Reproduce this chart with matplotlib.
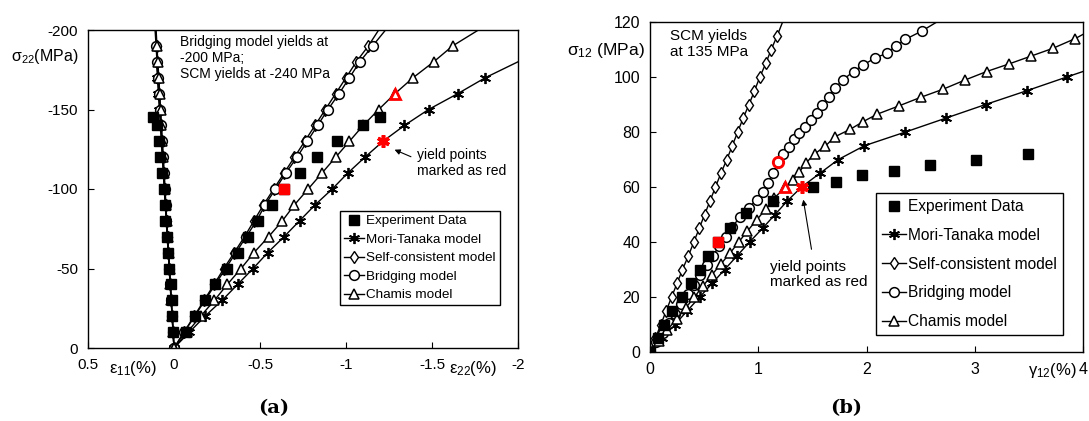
import numpy as np
import matplotlib.pyplot as plt

plt.rcParams['font.family'] = ['Liberation Sans', 'DejaVu Sans']
plt.rcParams['mathtext.fontset'] = 'custom'
plt.rcParams['mathtext.rm'] = 'Liberation Sans'
plt.rcParams['mathtext.it'] = 'Liberation Sans:italic'

# ---------------- panel (a): transverse compression ----------------
exp_s_a = [-10, -20, -30, -40, -50, -60, -70, -80, -90, -100, -110, -120, -130, -140, -145]
exp_e22_a = [-0.07, -0.12, -0.18, -0.24, -0.31, -0.37, -0.43, -0.49, -0.57, -0.64,
             -0.73, -0.83, -0.95, -1.10, -1.20]
exp_e11_a = [0.005, 0.01, 0.01, 0.02, 0.03, 0.035, 0.04, 0.05, 0.055, 0.06,
             0.07, 0.08, 0.09, 0.10, 0.12]

mod_s_a = [0, -10, -20, -30, -40, -50, -60, -70, -80, -90, -100,
           -110, -120, -130, -140, -150, -160, -170, -180, -190, -200]
bri_e22_a = [0, -0.06, -0.12, -0.18, -0.24, -0.30, -0.36, -0.42, -0.48, -0.53, -0.59,
             -0.65, -0.715, -0.775, -0.835, -0.895, -0.96, -1.02, -1.08, -1.155, -1.23]
bri_e11_a = [0, 0.005, 0.011, 0.016, 0.022, 0.027, 0.033, 0.038, 0.044, 0.049, 0.055,
             0.06, 0.066, 0.071, 0.077, 0.082, 0.088, 0.093, 0.099, 0.104, 0.11]
sc_e22_a = [0, -0.058, -0.117, -0.175, -0.233, -0.29, -0.35, -0.41, -0.465, -0.52, -0.58,
            -0.64, -0.70, -0.76, -0.82, -0.88, -0.94, -1.00, -1.06, -1.13, -1.19]
sc_e11_a = [0, 0.005, 0.011, 0.016, 0.021, 0.027, 0.032, 0.037, 0.043, 0.048, 0.053,
            0.059, 0.064, 0.069, 0.075, 0.08, 0.085, 0.091, 0.096, 0.101, 0.107]
ch_e22_a = [0, -0.078, -0.155, -0.235, -0.31, -0.39, -0.465, -0.55, -0.63, -0.70, -0.78,
            -0.86, -0.94, -1.02, -1.10, -1.19, -1.285, -1.39, -1.51, -1.62, -1.77]
ch_e11_a = [0, 0.005, 0.01, 0.016, 0.021, 0.026, 0.031, 0.036, 0.042, 0.047, 0.052,
            0.057, 0.062, 0.068, 0.073, 0.078, 0.083, 0.088, 0.094, 0.099, 0.104]
mt_s_a = [0, -10, -20, -30, -40, -50, -60, -70, -80, -90, -100,
          -110, -120, -130, -140, -150, -160, -170, -180]
mt_e22_a = [0, -0.09, -0.18, -0.28, -0.37, -0.46, -0.545, -0.64, -0.73, -0.82, -0.92,
            -1.01, -1.11, -1.215, -1.34, -1.48, -1.65, -1.81, -2.0]
mt_e11_a = [0, 0.006, 0.011, 0.017, 0.023, 0.028, 0.034, 0.04, 0.045, 0.051, 0.057,
            0.062, 0.068, 0.074, 0.079, 0.085, 0.091, 0.096, 0.102]
yld_exp_a, yld_ch_a, yld_mt_a = 9, 16, 13

# ---------------- panel (b): in-plane shear ----------------
exp_g_b = [0, 0.07, 0.13, 0.20, 0.30, 0.38, 0.46, 0.54, 0.63, 0.74, 0.89, 1.14, 1.51,
           1.72, 1.96, 2.25, 2.59, 3.01, 3.49]
exp_s_b = [0, 5, 10, 15, 20, 25, 30, 35, 40, 45, 50.5, 55, 60, 62, 64.4, 66, 68, 70, 72]

sc_s_b = [0, 5, 10, 15, 20, 25, 30, 35, 40, 45, 50, 55, 60, 65, 70, 75, 80, 85, 90,
          95, 100, 105, 110, 115, 120, 125]
sc_g_b = [0, 0.05, 0.10, 0.15, 0.20, 0.25, 0.30, 0.355, 0.405, 0.455, 0.505, 0.555,
          0.605, 0.655, 0.71, 0.76, 0.81, 0.86, 0.915, 0.965, 1.015, 1.07, 1.12, 1.175,
          1.225, 1.28]

bri_s_b = [0, 3.5, 7, 10.5, 14, 17.5, 21, 24.5, 28, 31.5, 35, 38.5, 42, 45.5, 49, 52.5,
           55.3, 58.3, 61.3, 65, 69, 72, 74.7, 77.3, 79.5, 82, 84.4, 86.8, 89.8, 92.8,
           96, 98.9, 102, 104.4, 106.9, 108.7, 111.2, 113.7, 116.7, 120]
bri_g_b = [0, 0.058, 0.116, 0.174, 0.232, 0.29, 0.348, 0.406, 0.464, 0.522, 0.58, 0.64,
           0.70, 0.76, 0.83, 0.91, 0.985, 1.04, 1.087, 1.14, 1.185, 1.23, 1.28, 1.33,
           1.38, 1.43, 1.485, 1.54, 1.59, 1.65, 1.71, 1.78, 1.88, 1.97, 2.08, 2.19, 2.27,
           2.36, 2.51, 2.65]

ch_s_b = [0, 4, 8, 12, 16, 20, 24, 28, 32, 36, 40, 44, 48, 52, 56, 60, 62.5, 65.5, 68.7,
          72, 74.9, 78.3, 81, 83.8, 86.5, 89.5, 92.6, 95.6, 98.9, 102, 104.8, 107.6,
          110.4, 114, 115.5]
ch_g_b = [0, 0.08, 0.16, 0.245, 0.33, 0.41, 0.49, 0.57, 0.655, 0.74, 0.82, 0.90, 0.985,
          1.07, 1.15, 1.25, 1.32, 1.38, 1.44, 1.52, 1.62, 1.71, 1.85, 1.97, 2.10, 2.30,
          2.50, 2.71, 2.91, 3.11, 3.32, 3.52, 3.72, 3.93, 4.0]

mt_s_b = [0, 5, 10, 15, 20, 25, 30, 35, 40, 45, 50, 55, 60, 65, 70, 75, 80, 85, 90, 95,
          100, 102]
mt_g_b = [0, 0.115, 0.23, 0.345, 0.46, 0.575, 0.69, 0.805, 0.92, 1.04, 1.155, 1.27, 1.40,
          1.57, 1.74, 1.98, 2.36, 2.73, 3.10, 3.48, 3.85, 4.0]
yld_exp_b, yld_bri_b, yld_ch_b, yld_mt_b = 8, 20, 15, 12

LEG_ORDER = ['Experiment Data', 'Mori-Tanaka model', 'Self-consistent model',
             'Bridging model', 'Chamis model']

STAR = (6, 2, 0)
RED = '#ff0000'
sty_mt = dict(color='black', lw=1.0, marker=STAR, ms=8, mew=1.3)
sty_sc = dict(color='black', lw=1.0, marker='d', ms=6, mfc='white', mew=1.0)
sty_br = dict(color='black', lw=1.0, marker='o', ms=7, mfc='white', mew=1.1)
sty_ch = dict(color='black', lw=1.0, marker='^', ms=7, mfc='white', mew=1.1)
sty_ex = dict(ls='none', marker='s', ms=6.5, color='black')

W, H = 1089, 421
fig = plt.figure(figsize=(W / 100, H / 100), dpi=100)
axa = fig.add_axes([88 / W, 1 - 348 / H, 430 / W, 318 / H])
axb = fig.add_axes([650 / W, 1 - 352 / H, 433 / W, 330 / H])

# ----- panel (a) -----
for e11, e22, s, sty, lab in [
        (mt_e11_a, mt_e22_a, mt_s_a, sty_mt, 'Mori-Tanaka model'),
        (sc_e11_a, sc_e22_a, mod_s_a, sty_sc, 'Self-consistent model'),
        (bri_e11_a, bri_e22_a, mod_s_a, sty_br, 'Bridging model'),
        (ch_e11_a, ch_e22_a, mod_s_a, sty_ch, 'Chamis model')]:
    n = len(s) - 1
    axa.plot(e11, s, markevery=slice(0, n), **sty)
    axa.plot(e22, s, markevery=slice(0, n), label=lab, **sty)
axa.plot(exp_e11_a, exp_s_a, **sty_ex)
axa.plot(exp_e22_a, exp_s_a, label='Experiment Data', **sty_ex)

axa.plot(exp_e22_a[yld_exp_a], exp_s_a[yld_exp_a], 's', ms=6.5, color=RED, zorder=5)
axa.plot(ch_e22_a[yld_ch_a], mod_s_a[yld_ch_a], '^', ms=7.5, mfc='white', mec=RED,
         mew=2.0, zorder=5)
axa.plot(mt_e22_a[yld_mt_a], mt_s_a[yld_mt_a], marker=STAR, ms=9, color=RED, mew=2.6,
         zorder=5)

axa.set_xlim(0.5, -2)
axa.set_ylim(0, -200)
axa.set_xticks([0.5, 0, -0.5, -1, -1.5, -2])
axa.set_xticklabels(['0.5', '0', '-0.5', '-1', '-1.5', '-2'])
axa.set_yticks([0, -50, -100, -150, -200])
axa.set_yticklabels(['0', '-50', '-100', '-150', '-200'])

axa.text(0.214, 0.985, 'Bridging model yields at\n-200 MPa;\nSCM yields at -240 MPa',
         transform=axa.transAxes, ha='left', va='top', fontsize=10, linespacing=1.2)
axa.text(0.765, 0.628, 'yield points\nmarked as red', transform=axa.transAxes,
         ha='left', va='top', fontsize=10, linespacing=1.15)
axa.annotate('', xy=(0.707, 0.627), xytext=(0.757, 0.598), xycoords='axes fraction',
             arrowprops=dict(arrowstyle='-|>', color='black', lw=0.8,
                             mutation_scale=8))

# ----- panel (b) -----
for g, s, sty, lab in [
        (mt_g_b, mt_s_b, sty_mt, 'Mori-Tanaka model'),
        (sc_g_b, sc_s_b, sty_sc, 'Self-consistent model'),
        (bri_g_b, bri_s_b, sty_br, 'Bridging model'),
        (ch_g_b, ch_s_b, sty_ch, 'Chamis model')]:
    n = len(s) - 1 if lab != 'Self-consistent model' else len(s) - 2
    axb.plot(g, s, markevery=slice(0, n), label=lab, **sty)
axb.plot(exp_g_b, exp_s_b, label='Experiment Data', **sty_ex)

axb.plot(exp_g_b[yld_exp_b], exp_s_b[yld_exp_b], 's', ms=6.5, color=RED, zorder=5)
axb.plot(bri_g_b[yld_bri_b], bri_s_b[yld_bri_b], 'o', ms=7.5, mfc='none', mec=RED,
         mew=2.0, zorder=5)
axb.plot(ch_g_b[yld_ch_b], ch_s_b[yld_ch_b], '^', ms=7.5, mfc='white', mec=RED,
         mew=2.0, zorder=5)
axb.plot(mt_g_b[yld_mt_b], mt_s_b[yld_mt_b], marker=STAR, ms=9, color=RED, mew=2.6,
         zorder=5)

axb.set_xlim(0, 4)
axb.set_ylim(0, 120)
axb.set_xticks([0, 1, 2, 3, 4])
axb.set_xticklabels(['0', '1', '2', '3', '4'])
axb.set_yticks([0, 20, 40, 60, 80, 100, 120])

axb.text(0.046, 0.978, 'SCM yields\nat 135 MPa', transform=axb.transAxes,
         ha='left', va='top', fontsize=11, linespacing=1.15)
axb.text(0.277, 0.28, 'yield points\nmarked as red', transform=axb.transAxes,
         ha='left', va='top', fontsize=11, linespacing=1.15)
axb.annotate('', xy=(0.353, 0.47), xytext=(0.374, 0.303), xycoords='axes fraction',
             arrowprops=dict(arrowstyle='-|>', color='black', lw=0.8,
                             mutation_scale=8))

# ----- shared styling -----
for ax, tsize in ((axa, 11), (axb, 11.5)):
    ax.tick_params(direction='in', length=4, width=0.8, labelsize=tsize, pad=7)
    for sp in ax.spines.values():
        sp.set_linewidth(1.0)

def ordered_handles(ax):
    h, l = ax.get_legend_handles_labels()
    idx = [l.index(k) for k in LEG_ORDER]
    return [h[i] for i in idx], [l[i] for i in idx]

leg_a = axa.legend(*ordered_handles(axa), loc='upper right',
                   bbox_to_anchor=(500 / W, 1 - 211 / H), bbox_transform=fig.transFigure,
                   borderaxespad=0, fontsize=9.7, frameon=True, fancybox=False,
                   edgecolor='black', framealpha=1, handlelength=1.5,
                   handletextpad=0.15, labelspacing=0.45, borderpad=0.3)
leg_a.get_frame().set_linewidth(1.0)
leg_b = axb.legend(*ordered_handles(axb), loc='upper right',
                   bbox_to_anchor=(1063 / W, 1 - 193 / H), bbox_transform=fig.transFigure,
                   borderaxespad=0, fontsize=11.2, frameon=True, fancybox=False,
                   edgecolor='black', framealpha=1, handlelength=1.5,
                   handletextpad=0.15, labelspacing=0.88, borderpad=0.4)
leg_b.get_frame().set_linewidth(1.0)

# axis labels placed like the original
fig.text(45 / W, 1 - 57 / H, 'σ$_{22}$(MPa)', ha='center', va='center', fontsize=11.5)
fig.text(606 / W, 1 - 50 / H, 'σ$_{12}$ (MPa)', ha='center', va='center', fontsize=12.5)
fig.text(133 / W, 1 - 368 / H, 'ε$_{11}$(%)', ha='center', va='center', fontsize=12)
fig.text(473 / W, 1 - 368 / H, 'ε$_{22}$(%)', ha='center', va='center', fontsize=12)
fig.text(1052 / W, 1 - 371 / H, 'γ$_{12}$(%)', ha='center', va='center', fontsize=12)

fig.text(274 / W, 1 - 408 / H, '(a)', ha='center', va='center', fontsize=14,
         fontweight='bold', family='DejaVu Serif')
fig.text(846 / W, 1 - 408 / H, '(b)', ha='center', va='center', fontsize=14,
         fontweight='bold', family='DejaVu Serif')

fig.savefig('out.png', dpi=100)
